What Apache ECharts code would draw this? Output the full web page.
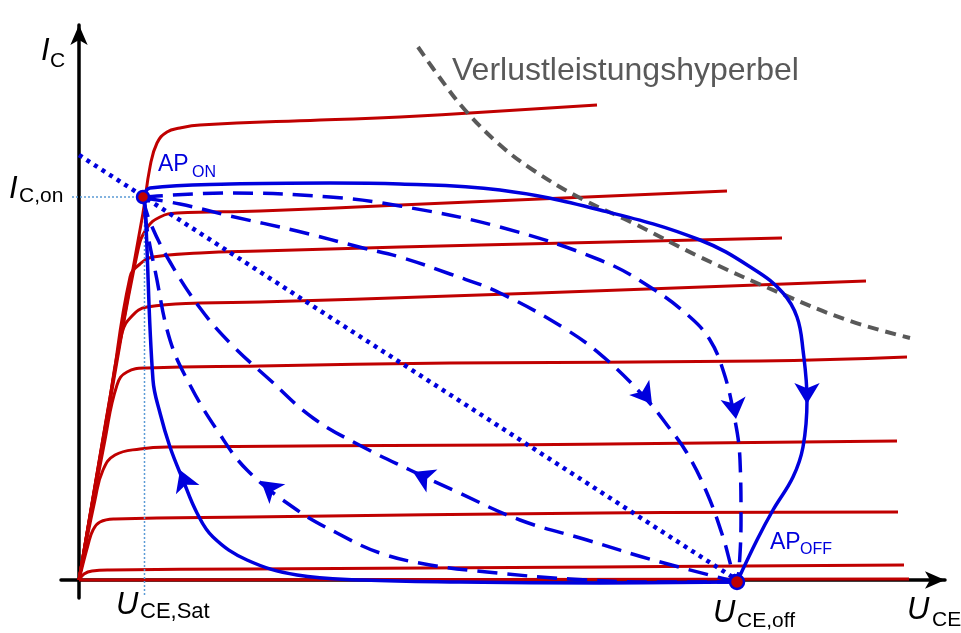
<!DOCTYPE html>
<html>
<head>
<meta charset="utf-8">
<script src="https://cdn.jsdelivr.net/npm/echarts@6/dist/echarts.min.js"></script>
<style>
  html, body { margin: 0; padding: 0; background: #fff; }
  #chart { width: 961px; height: 633px; }
</style>
</head>
<body>
<div id="chart"></div>
<script>
// Output characteristics I_C(U_CE), one curve per base-current step (arbitrary units)
const curveIb1 = [[0,0],[3.4,20],[6.4,36.7],[7.1,41.3],[7.8,43.7],[8.8,44.8],[10.1,45.2],[12.1,45.5],[24.1,46],[32.1,46.3],[51.8,47.5]];
const curveIb2 = [[0,0],[3.3,19],[5.9,33],[6.8,35.2],[8.1,36.3],[9.8,36.7],[18.1,36.9],[32.1,37.5],[64.8,38.9]];
const curveIb3 = [[0,0],[3.1,18],[5.1,30.3],[6.1,31.6],[7.4,32.3],[12.1,32.7],[18.1,32.9],[32.1,33.3],[70.3,34.2]];
const curveIb4 = [[0,0],[2.9,17],[4.3,24.7],[5.3,26.4],[6.8,27.3],[12.1,27.7],[18.1,27.8],[37.1,28.4],[78.7,29.9]];
const curveIb5 = [[0,0],[2.6,14],[3.8,19.5],[4.8,20.8],[6.8,21.2],[18.1,21.4],[37.1,21.7],[68.1,21.9],[82.8,22.3]];
const curveIb6 = [[0,0],[1.6,8],[2.4,11],[3.6,12.5],[6.1,13.1],[9.1,13.3],[42.1,13.5],[81.8,13.9]];
const curveIb7 = [[0,0],[0.9,3.5],[1.4,5],[2.1,5.8],[3.6,6.1],[17.1,6.3],[52.1,6.7],[81.9,6.8]];
const curveIb8 = [[0,0],[0.5,0.6],[1.3,0.9],[3.1,1],[17.1,1.1],[52.1,1.3],[82.5,1.5]];
const curveIb9 = [[0,0],[83,0.1]];
const outputCurves = [curveIb1, curveIb2, curveIb3, curveIb4, curveIb5, curveIb6, curveIb7, curveIb8, curveIb9];

// Maximum power dissipation hyperbola
const lossHyperbola = [[33.9,53.3],[36.1,50.2],[38.6,47.0],[42.1,43.5],[45.4,41.0],[50.1,38.2],[55.4,35.7],[62.1,32.3],[70.1,28.7],[76.8,26.0],[83.1,24.2]];

// Operating points
const opOn = [6.4, 38.3];
const opOff = [65.8, -0.2];

// Resistive load line
const loadLine = [[0,42.5],[65.8,0]];

// Switching trajectories
const pathTurnOff = [[6.4,38.3],[7.1,39.2],[15.1,39.6],[25.1,39.7],[32.1,39.6],[42.1,39.0],[52.1,37.0],[62.1,34.0],[67.6,31.0],[70.4,28.7],[71.8,26.3],[72.4,23.0],[72.8,18.0],[72.4,13.3],[71.4,10.3],[69.4,7.0],[67.8,4.0],[65.8,-0.2]];
const pathTurnOn = [[65.8,-0.2],[52.1,-0.3],[38.1,-0.2],[28.4,0],[21.8,0.5],[16.8,2.0],[13.4,4.3],[11.8,6.7],[10.4,10.0],[9.1,13.3],[8.1,16.7],[7.4,20.0],[6.6,37.5],[6.4,38.3]];
const pathOffDash1 = [[6.4,38.3],[15.1,38.7],[25.1,38.3],[32.1,37.4],[42.1,35.3],[52.1,32.0],[57.1,29.3],[61.1,26.3],[63.1,24.0],[64.4,21.0],[65.4,17.0],[66.1,12.0],[66.2,6.0],[66.0,1.0],[65.8,-0.2]];
const pathOffDash2 = [[6.4,38.2],[10.1,37.6],[15.1,36.4],[21.8,34.9],[28.4,33.2],[32.1,32.3],[37.1,30.6],[42.1,28.7],[48.8,25.0],[52.8,22.0],[56.8,18.0],[58.8,15.5],[60.8,12.7],[62.8,8.7],[64.4,4.3],[65.4,0.7],[65.8,-0.2]];
const pathOnDash1 = [[65.8,-0.2],[57.4,2.0],[50.8,4.0],[44.1,6.0],[37.4,9.0],[33.1,11.0],[28.4,13.3],[23.4,16.2],[19.1,20.0],[15.1,23.7],[12.1,27.2],[9.1,31.8],[7.1,35.8],[6.4,38.2]];
const pathOnDash2 = [[65.8,-0.2],[57.1,-0.2],[49.1,0.1],[40.8,0.8],[35.1,1.5],[30.1,2.7],[25.8,4.7],[21.8,7.0],[16.8,11.0],[13.8,15.0],[11.1,19.5],[9.1,24.0],[7.6,31.0],[6.9,34.5],[6.4,38.2]];

// Direction arrows on the trajectories: [x, y, dx, dy]
const arrowMarks = [
  [72.8, 17.6, 0, -1],
  [65.7, 16.1, 0.14, -1],
  [57.3, 17.6, 1, -1.3],
  [33.4, 10.8, -9, 4.3],
  [18.2, 9.9, -5, 4],
  [10.1, 11.0, -1.3, 3.3]
];

// Guide lines for I_C,on and U_CE,Sat
const guideIcOn = [[-0.7, 38.3], [6.4, 38.3]];
const guideUceSat = [[6.55, 38.3], [6.55, -1.5]];

const RED = '#c00000';
const BLUE = '#0000dd';
const GRAY = '#595959';
const FONT = '"Liberation Sans", Arial, sans-serif';

function lineSeries(data, color, width, type, z, smooth) {
  return {
    type: 'line', data: data, showSymbol: false, symbol: 'none',
    smooth: smooth, z: z, silent: true, clip: false,
    lineStyle: { color: color, width: width, type: type, cap: 'butt', join: 'round' }
  };
}

const series = [];
outputCurves.forEach(c => series.push(lineSeries(c, RED, 3, 'solid', 2, 0.45)));
series.push(lineSeries(lossHyperbola, GRAY, 4, [11, 7], 3, 0.4));
series.push(lineSeries(guideIcOn, '#5b9bd5', 1.5, [2, 2], 3, false));
series.push(lineSeries(guideUceSat, '#5b9bd5', 1.5, [2, 2], 3, false));
series.push(lineSeries(loadLine, BLUE, 4.5, [4, 5], 4, false));
series.push(lineSeries(pathTurnOff, BLUE, 3.5, 'solid', 5, 0.4));
series.push(lineSeries(pathTurnOn, BLUE, 3.5, 'solid', 5, 0.4));
series.push(lineSeries(pathOffDash1, BLUE, 3.5, [20, 10], 5, 0.4));
series.push(lineSeries(pathOffDash2, BLUE, 3.5, [20, 10], 5, 0.4));
series.push(lineSeries(pathOnDash1, BLUE, 3.5, [20, 10], 5, 0.4));
series.push(lineSeries(pathOnDash2, BLUE, 3.5, [20, 10], 5, 0.4));

series.push({
  type: 'scatter', z: 6, silent: true,
  symbol: 'arrow', symbolSize: [19, 21],
  itemStyle: { color: BLUE, opacity: 1 },
  data: arrowMarks.map(a => ({
    value: [a[0], a[1]],
    symbolRotate: Math.atan2(a[3], a[2]) * 180 / Math.PI - 90
  }))
});

series.push({
  type: 'scatter', z: 7, silent: true,
  symbol: 'circle',
  itemStyle: { color: RED, borderColor: BLUE, borderWidth: 2.5, opacity: 1 },
  data: [
    { value: opOn, symbolSize: 12 },
    { value: opOff, symbolSize: 14 }
  ]
});

function txt(x, y, text, size, color, italic) {
  return {
    type: 'text', x: x, y: y, z: 20, silent: true,
    style: {
      text: text, fill: color,
      font: (italic ? 'italic ' : '') + size + 'px ' + FONT,
      align: 'left', verticalAlign: 'middle'
    }
  };
}

const graphics = [
  txt(41, 51, 'I', 31, '#000', true),
  txt(50, 61, 'C', 21, '#000', false),
  txt(9, 189, 'I', 31, '#000', true),
  txt(19, 196, 'C,on', 21, '#000', false),
  txt(116, 605, 'U', 31, '#000', true),
  txt(140, 612, 'CE,Sat', 22, '#000', false),
  txt(713, 613, 'U', 31, '#000', true),
  txt(737, 621, 'CE,off', 21, '#000', false),
  txt(907, 610, 'U', 31, '#000', true),
  txt(932, 620, 'CE', 21, '#000', false),
  txt(158, 165, 'AP', 23, BLUE, false),
  txt(192, 173, 'ON', 16, BLUE, false),
  txt(770, 543, 'AP', 23, BLUE, false),
  txt(800, 550, 'OFF', 16, BLUE, false),
  txt(452, 71, 'Verlustleistungshyperbel', 32, GRAY, false)
];

const axisCommon = {
  type: 'value',
  axisLine: { show: true, onZero: true, symbol: ['none', 'arrow'], symbolSize: [13, 20],
              lineStyle: { color: '#000', width: 3.5 } },
  axisTick: { show: false },
  axisLabel: { show: false },
  splitLine: { show: false }
};

const chart = echarts.init(document.getElementById('chart'), null, { renderer: 'canvas' });
chart.setOption({
  animation: false,
  backgroundColor: '#fff',
  grid: { left: 61, right: 16, top: 25, bottom: 35, containLabel: false },
  xAxis: Object.assign({}, axisCommon, { min: -1.8, max: 86.6 }),
  yAxis: Object.assign({}, axisCommon, { min: -1.8, max: 55.5 }),
  series: series,
  graphic: graphics
});
</script>
</body>
</html>
